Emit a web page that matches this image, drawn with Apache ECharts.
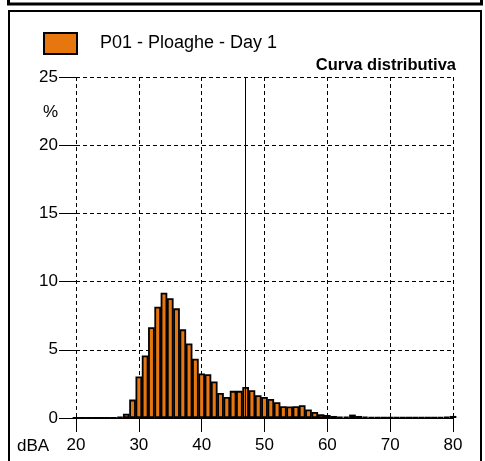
<!DOCTYPE html>
<html>
<head>
<meta charset="utf-8">
<script src="https://cdn.jsdelivr.net/npm/echarts@6/dist/echarts.min.js"></script>
<style>
  html, body { margin: 0; padding: 0; background: #fff; }
  #chart { width: 485px; height: 461px; }
</style>
</head>
<body>
<div id="chart"></div>
<script>
// dBA classes (1 dB wide) and percentage of time in each class
const levels = [];
for (let v = 20; v <= 80; v++) levels.push(v);
const percent = [
  0, 0, 0, 0, 0, 0, 0.03, 0.08, 0.32, 1.35,      // 20-29
  3.04, 4.59, 6.65, 8.16, 9.19, 8.78, 8.04, 6.5, 5.47, 4.34, // 30-39
  3.26, 3.21, 2.68, 1.84, 1.54, 1.99, 1.99, 2.28, 2.04, 1.67, // 40-49
  1.54, 1.4, 1.15, 0.86, 0.84, 0.86, 0.93, 0.62, 0.44, 0.27, // 50-59
  0.22, 0.15, 0.07, 0.1, 0.25, 0.15, 0.1, 0.05, 0.04, 0.04,  // 60-69
  0.04, 0.04, 0.04, 0.04, 0.04, 0.04, 0.04, 0.04, 0.05, 0.08, // 70-79
  0.15                                                         // 80
];
const xTicks = [20, 30, 40, 50, 60, 70, 80];
const yTicks = [0, 5, 10, 15, 20, 25];
const markerLevel = 47;
const seriesName = 'P01 - Ploaghe - Day 1';

const gridLeft = 76, gridWidth = 377;
const barW = gridWidth / (xTicks[xTicks.length - 1] - xTicks[0]);

const font = 'Liberation Sans, Arial, sans-serif';
const dashed = { color: '#000', width: 1, type: [4, 3] };

const chart = echarts.init(document.getElementById('chart'));
chart.setOption({
  animation: false,
  textStyle: { fontFamily: font },
  title: {
    text: 'Curva distributiva',
    right: 24,
    top: 52,
    textStyle: { fontSize: 16.5, fontWeight: 'bold', color: '#000', fontFamily: font }
  },
  legend: {
    left: 38,
    top: 27,
    icon: 'rect',
    itemWidth: 33,
    itemHeight: 21,
    textStyle: { fontSize: 18, color: '#000', fontFamily: font, padding: [0, 0, 0, 18] },
    data: [seriesName]
  },
  grid: { left: gridLeft, top: 77, width: gridWidth, bottom: 43 },
  xAxis: {
    type: 'value',
    min: xTicks[0],
    max: xTicks[xTicks.length - 1],
    interval: 10,
    axisLine: { show: true, onZero: false, lineStyle: { color: '#000', width: 1 } },
    axisTick: { show: true, inside: false, length: 14, lineStyle: { color: '#000' } },
    axisLabel: { fontSize: 17, color: '#000', margin: 19, fontFamily: font },
    splitLine: { show: true, lineStyle: dashed }
  },
  yAxis: {
    type: 'value',
    min: yTicks[0],
    max: yTicks[yTicks.length - 1],
    interval: 5,
    axisLine: { show: false },
    axisTick: { show: true, inside: false, length: 17, lineStyle: { color: '#000' } },
    axisLabel: { fontSize: 17, color: '#000', margin: 18, fontFamily: font },
    splitLine: { show: true, lineStyle: dashed }
  },
  series: [{
    name: seriesName,
    type: 'bar',
    barWidth: barW + 0.4,
    clip: true,
    itemStyle: {
      color: '#E8760E',
      borderColor: '#000',
      borderWidth: 1.8
    },
    data: levels.map((v, i) => [v, percent[i]]),
    markLine: {
      silent: true,
      symbol: 'none',
      label: { show: false },
      lineStyle: { color: '#000', width: 1, type: 'solid' },
      data: [{ xAxis: markerLevel }]
    }
  }],
  graphic: [
    { type: 'rect', shape: { x: 8.5, y: -10, width: 473, height: 14 },
      style: { fill: 'none', stroke: '#000', lineWidth: 3 } },
    { type: 'rect', shape: { x: 9, y: 11, width: 472, height: 470 },
      style: { fill: 'none', stroke: '#000', lineWidth: 2 } },
    { type: 'text', left: 43, top: 104,
      style: { text: '%', fontSize: 17, fill: '#000', fontFamily: font } },
    { type: 'text', left: 17, top: 438,
      style: { text: 'dBA', fontSize: 17, fill: '#000', fontFamily: font } }
  ]
});
</script>
</body>
</html>
